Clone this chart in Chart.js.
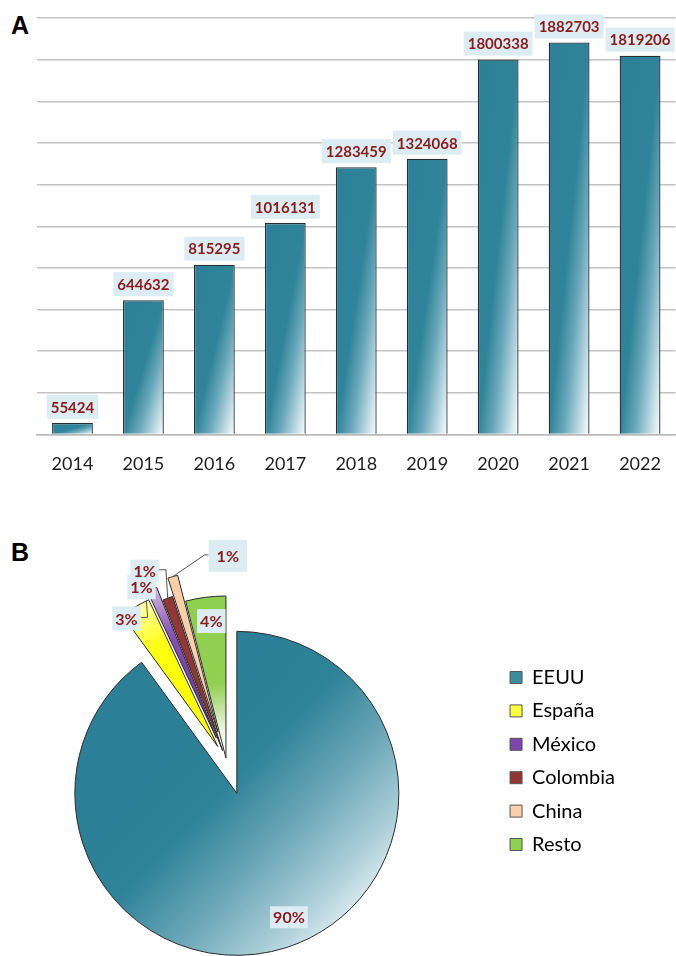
<!DOCTYPE html>
<html>
<head>
<meta charset="utf-8">
<script src="https://cdn.jsdelivr.net/npm/chart.js@4.4.1/dist/chart.umd.min.js"></script>
<style>
  html, body { margin: 0; padding: 0; background: #fff; overflow: hidden; }
  #wrap { position: relative; width: 676px; height: 956px; overflow: hidden; }
  .panel { position: absolute; font: bold 25px "Liberation Sans", Arial, sans-serif; color: #000; line-height: 1; }
  #barBox { position: absolute; left: 0; top: 0; width: 680px; height: 500px; }
  #pieBox { position: absolute; left: -50px; top: 530px; width: 726px; height: 426px; }
</style>
</head>
<body>
<div id="wrap">
  <div class="panel" style="left:11px;top:13px">A</div>
  <div class="panel" style="left:11px;top:540px">B</div>
  <div id="barBox"><canvas id="bar" aria-label="Gráfico de barras por año"></canvas></div>
  <div id="pieBox"><canvas id="pie" aria-label="Gráfico circular por país"></canvas></div>
</div>
<script>
// datos del panel A
const years = ['2014', '2015', '2016', '2017', '2018', '2019', '2020', '2021', '2022'];
const counts = [55424, 644632, 815295, 1016131, 1283459, 1324068, 1800338, 1882703, 1819206];
const yMax = 2000000;
const yStep = 200000;

// datos del panel B
const countries = ['EEUU', 'España', 'México', 'Colombia', 'China', 'Resto'];
const shares = [90, 3, 1, 1, 1, 4];

// estilos
const FONT = 'Lato, "Open Sans", sans-serif';
const LABEL_BG = '#dbedf3';
const LABEL_FG = '#8b1a1a';
const TEAL = '#2e8299';
const BAR_PCT = 0.575;
const PIE_R = 162;
const explode = [34, 17, 25, 11, 30, 3];          // px, desplazamiento de cada sector
const swatch = ['#3c8ca2', '#ffff40', '#7b45ad', '#943634', '#fbcfa8', '#8fcf52'];
// posición de etiquetas: giro (grados) respecto al centro del sector y distancia / radio
const labelTurn = [-4.8, -4.9, -3.0, -3.6, 19.4, 1.1];
const labelDist = [0.83, 0.97, 1.04, 1.21, 1.09, 0.85];
const labelPad = [[3, 2], [3, 3], [3, 3], [3, 2], [8, 7], [3, 3]];
// líneas guía: lado de la caja y ángulo del punto de llegada (relativo al sector)
const leaders = [null, { side: 'right', turn: 4.5 }, null, { side: 'right', turn: 0 }, { side: 'left', turn: 0 }, null];

// ---------- panel A ----------
function barFill(c) {
  const chart = c.chart;
  if (!chart.chartArea || c.type !== 'data') return TEAL;
  const xs = chart.scales.x, ys = chart.scales.y;
  const cx = xs.getPixelForValue(c.dataIndex);
  const w = (xs.width / years.length) * BAR_PCT;
  const top = ys.getPixelForValue(c.raw);
  const h = ys.getPixelForValue(0) - top;
  const x0 = cx - w / 2;
  // degradado diagonal normalizado a la caja de la barra
  const k = (2 * w * h) / (w * w + h * h);
  const g = chart.ctx.createLinearGradient(x0, top, x0 + k * h, top + k * w);
  g.addColorStop(0, '#2c8097');
  g.addColorStop(0.5, '#2f849a');
  g.addColorStop(0.68, '#6aa8ba');
  g.addColorStop(0.86, '#bcd9e2');
  g.addColorStop(1, '#ffffff');
  return g;
}

const barLabels = {
  id: 'barLabels',
  afterDatasetsDraw(chart) {
    const { ctx } = chart;
    const meta = chart.getDatasetMeta(0);
    ctx.save();
    ctx.font = 'bold 15px ' + FONT;
    ctx.textAlign = 'center';
    ctx.textBaseline = 'middle';
    meta.data.forEach((bar, i) => {
      const txt = String(counts[i]);
      const bw = ctx.measureText(txt).width + 8;
      const bh = 24;
      const by = bar.y - 4 - bh;
      ctx.fillStyle = LABEL_BG;
      ctx.fillRect(bar.x - bw / 2, by, bw, bh);
      ctx.fillStyle = LABEL_FG;
      ctx.fillText(txt, bar.x, by + bh / 2 + 1);
    });
    ctx.restore();
  },
};

new Chart(document.getElementById('bar'), {
  type: 'bar',
  data: {
    labels: years,
    datasets: [{
      data: counts,
      backgroundColor: barFill,
      borderColor: '#262f33',
      borderWidth: 1.3,
      borderSkipped: 'bottom',
      categoryPercentage: 1,
      barPercentage: BAR_PCT,
    }],
  },
  options: {
    responsive: true,
    maintainAspectRatio: false,
    animation: false,
    layout: { padding: { top: 18, left: 37, right: 1, bottom: 6 } },
    plugins: { legend: { display: false }, tooltip: { enabled: false } },
    scales: {
      x: {
        grid: { display: false, drawTicks: false },
        border: { color: '#b9b9b9', width: 1.5 },
        ticks: { color: '#1e1e1e', padding: 19, font: { family: FONT, size: 18 } },
      },
      y: {
        min: 0,
        max: yMax,
        ticks: { display: false, stepSize: yStep },
        grid: { color: '#c3c3c3', lineWidth: 1.4, drawTicks: false },
        border: { display: false },
      },
    },
  },
  plugins: [barLabels],
});

// ---------- panel B ----------
function pieFill(c) {
  const chart = c.chart, ca = chart.chartArea;
  if (!ca || c.type !== 'data') return swatch[c.dataIndex];
  const cx = (ca.left + ca.right) / 2, cy = (ca.top + ca.bottom) / 2, r = PIE_R;
  const ctx = chart.ctx;
  let g;
  switch (c.dataIndex) {
    case 0:
      g = ctx.createLinearGradient(cx - 0.45 * r, cy - 0.3 * r, cx + 0.74 * r, cy + 0.85 * r);
      g.addColorStop(0, '#2b7f96');
      g.addColorStop(0.28, '#2f8399');
      g.addColorStop(0.55, '#6aa6b7');
      g.addColorStop(0.82, '#b0d1db');
      g.addColorStop(1, '#eef6f8');
      return g;
    case 1:
      g = ctx.createRadialGradient(cx, cy, 0, cx, cy, r + explode[1]);
      g.addColorStop(0, '#ffff00');
      g.addColorStop(0.65, '#ffff10');
      g.addColorStop(1, '#ffffe6');
      return g;
    case 2:
      g = ctx.createRadialGradient(cx, cy, 0, cx, cy, r + explode[2]);
      g.addColorStop(0, '#6a2a9c');
      g.addColorStop(0.6, '#8750b5');
      g.addColorStop(1, '#f0e9f6');
      return g;
    case 5:
      g = ctx.createRadialGradient(cx, cy, 0, cx, cy, r);
      g.addColorStop(0, '#ffffff');
      g.addColorStop(0.15, '#f3f9ee');
      g.addColorStop(0.46, '#92d050');
      g.addColorStop(1, '#8fcf4e');
      return g;
    default:
      return swatch[c.dataIndex];
  }
}

// dibuja cada sector desplazado a lo largo de su ángulo medio
const pieExplode = {
  id: 'pieExplode',
  beforeDatasetDraw(chart, args) {
    const ctx = chart.ctx;
    args.meta.data.forEach((arc, i) => {
      const mid = (arc.startAngle + arc.endAngle) / 2;
      ctx.save();
      ctx.translate(Math.cos(mid) * explode[i], Math.sin(mid) * explode[i]);
      arc.draw(ctx);
      ctx.restore();
    });
    return false;
  },
};

const pieLabels = {
  id: 'pieLabels',
  afterDatasetsDraw(chart) {
    const ctx = chart.ctx;
    const meta = chart.getDatasetMeta(0);
    ctx.save();
    ctx.font = 'bold 16px ' + FONT;
    ctx.textAlign = 'center';
    ctx.textBaseline = 'middle';
    const order = [1, 2, 3, 4, 5, 0];
    order.forEach((i) => {
      const arc = meta.data[i];
      const mid = (arc.startAngle + arc.endAngle) / 2;
      const ax = arc.x + Math.cos(mid) * explode[i];
      const ay = arc.y + Math.sin(mid) * explode[i];
      const a = mid + (labelTurn[i] * Math.PI) / 180;
      const lx = ax + Math.cos(a) * PIE_R * labelDist[i];
      const ly = ay + Math.sin(a) * PIE_R * labelDist[i];
      const txt = shares[i] + '%';
      const tw = ctx.measureText(txt).width;
      const bw = tw + 2 * labelPad[i][0], bh = 18 + 2 * labelPad[i][1];
      const ld = leaders[i];
      if (ld) {
        const ta = mid + (ld.turn * Math.PI) / 180;
        const tx = ax + Math.cos(ta) * PIE_R, ty = ay + Math.sin(ta) * PIE_R;
        const sx = ld.side === 'right' ? lx + bw / 2 : lx - bw / 2;
        const ex = ld.side === 'right' ? sx + 7 : sx - 4;
        ctx.beginPath();
        ctx.moveTo(sx, ly - 1);
        ctx.lineTo(ex, ly - 1);
        ctx.lineTo(tx, ty);
        ctx.strokeStyle = '#555';
        ctx.lineWidth = 1;
        ctx.stroke();
      }
      ctx.fillStyle = LABEL_BG;
      ctx.fillRect(lx - bw / 2, ly - bh / 2, bw, bh);
      ctx.fillStyle = LABEL_FG;
      ctx.fillText(txt, lx, ly + 1);
    });
    ctx.restore();
  },
};

new Chart(document.getElementById('pie'), {
  type: 'pie',
  data: {
    labels: countries,
    datasets: [{
      data: shares,
      backgroundColor: pieFill,
      borderColor: '#2b2b2b',
      borderWidth: 1,
      offset: 0,
      clip: false,
    }],
  },
  options: {
    responsive: true,
    maintainAspectRatio: false,
    animation: false,
    radius: PIE_R,
    layout: { padding: { top: 36, left: 6, right: 51, bottom: 0 } },
    plugins: {
      tooltip: { enabled: false },
      legend: {
        position: 'right',
        labels: {
          boxWidth: 12,
          boxHeight: 12,
          padding: 13.4,
          color: '#111',
          font: { family: FONT, size: 20 },
          generateLabels: () => countries.map((name, i) => ({
            text: name,
            fillStyle: swatch[i],
            strokeStyle: '#555',
            lineWidth: 1,
            index: i,
          })),
        },
      },
    },
  },
  plugins: [pieExplode, pieLabels],
});
</script>
</body>
</html>
